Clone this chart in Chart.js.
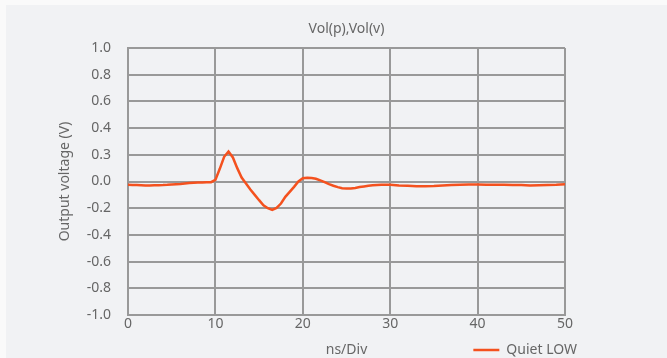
<!DOCTYPE html>
<html>
<head>
<meta charset="utf-8">
<title>Vol(p),Vol(v)</title>
<script src="https://cdn.jsdelivr.net/npm/chart.js@4"></script>
<style>
  html, body { margin: 0; padding: 0; background: #fafafa; }
  #wrap { width: 667px; height: 358px; }
</style>
</head>
<body>
<div id="wrap"><canvas id="grafico_salida"></canvas></div>
<script>
// tiempo en ns
const tiempos = [
  0, 0.5, 1, 1.5, 2, 2.5, 3, 3.5, 4, 4.5,
  5, 5.5, 6, 6.5, 7, 7.5, 8, 8.5, 9, 9.5,
  10, 10.5, 11, 11.5, 12, 12.5, 13, 13.5, 14, 14.5,
  15, 15.5, 16, 16.5, 17, 17.5, 18, 18.5, 19, 19.5,
  20, 20.5, 21, 21.5, 22, 22.5, 23, 23.5, 24, 24.5,
  25, 25.5, 26, 26.5, 27, 27.5, 28, 28.5, 29, 29.5,
  30, 31, 32, 33, 34, 35, 36, 37, 38, 39,
  40, 41, 42, 43, 44, 45, 46, 47, 48, 49, 50
];
// tension de salida (V)
const voltajes = [
  -0.025, -0.026, -0.027, -0.028, -0.030, -0.030, -0.029, -0.028, -0.027, -0.025,
  -0.022, -0.020, -0.018, -0.015, -0.012, -0.010, -0.008, -0.008, -0.006, -0.005,
  0.012, 0.095, 0.185, 0.225, 0.180, 0.100, 0.030, -0.015, -0.060, -0.100,
  -0.140, -0.178, -0.200, -0.212, -0.198, -0.165, -0.115, -0.078, -0.040, 0.000,
  0.025, 0.028, 0.026, 0.020, 0.008, -0.005, -0.020, -0.032, -0.042, -0.050,
  -0.053, -0.053, -0.048, -0.042, -0.037, -0.032, -0.028, -0.026, -0.025, -0.025,
  -0.025, -0.030, -0.032, -0.035, -0.036, -0.034, -0.030, -0.027, -0.024, -0.022,
  -0.022, -0.024, -0.025, -0.024, -0.026, -0.027, -0.030, -0.028, -0.026, -0.024, -0.020
];
const etiquetasY = ['-1.0', '-0.8', '-0.6', '-0.4', '-0.2', '0.0', '0.3', '0.4', '0.6', '0.8', '1.0'];
const nombreSerie = 'Quiet LOW';

const gris = '#666';
const fuente = { family: "'Noto Sans', sans-serif", size: 14 };

const fondo = {
    id: 'fondo',
    beforeDraw(chart) {
        const c = chart.ctx;
        c.save();
        c.fillStyle = '#f1f2f4';
        c.fillRect(6, 5, chart.width, chart.height);
        c.restore();
    }
};

const ctx = document.getElementById('grafico_salida');
new Chart(ctx, {
    type: 'line',
    data: {
        datasets: [{
            label: nombreSerie,
            data: tiempos.map((t, i) => ({ x: t, y: voltajes[i] })),
            borderColor: '#f4511e',
            backgroundColor: '#f4511e',
            borderWidth: 2.5,
            pointRadius: 0,
            tension: 0
        }]
    },
    options: {
        responsive: true,
        maintainAspectRatio: false,
        animation: false,
        layout: { padding: { top: 6, left: 30, right: 80, bottom: -9 } },
        plugins: {
            title: { display: false },
            tooltip: { enabled: false },
            legend: {
                position: 'bottom',
                align: 'end',
                labels: {
                    usePointStyle: true,
                    pointStyle: 'line',
                    pointStyleWidth: 26,
                    padding: 10,
                    color: gris,
                    font: fuente
                }
            }
        },
        scales: {
            x: {
                type: 'linear',
                min: 0,
                max: 50,
                ticks: { stepSize: 10, padding: 1, color: gris, font: fuente },
                grid: { color: '#999', lineWidth: 2, drawTicks: false },
                border: { color: '#999', width: 2 },
                title: {
                    display: true, text: 'ns/Div', color: gris, font: fuente,
                    padding: { top: 7.8, bottom: -25.4 }
                }
            },
            x2: {
                type: 'linear',
                position: 'top',
                grid: { display: false, drawTicks: false },
                border: { display: false },
                ticks: { display: false },
                title: {
                    display: true, text: 'Vol(p),Vol(v)', color: gris, font: fuente,
                    padding: { top: 14.6, bottom: 10.6 }
                }
            },
            y: {
                type: 'linear',
                min: -1,
                max: 1,
                ticks: {
                    stepSize: 0.2,
                    padding: 17,
                    color: gris,
                    font: fuente,
                    callback: (v, i) => etiquetasY[i]
                },
                grid: { color: '#999', lineWidth: 2, drawTicks: false },
                border: { color: '#999', width: 2 },
                title: {
                    display: true, text: 'Output voltage (V)', color: gris, font: fuente,
                    padding: { top: 26.6, bottom: 0 }
                },
                afterFit: (s) => { s.width = 98; }
            },
            y2: {
                type: 'linear',
                position: 'right',
                grid: { display: false, drawTicks: false },
                border: { display: false },
                ticks: { display: false },
                afterFit: (s) => { s.width = 22; }
            }
        }
    },
    plugins: [fondo]
});
</script>
</body>
</html>
